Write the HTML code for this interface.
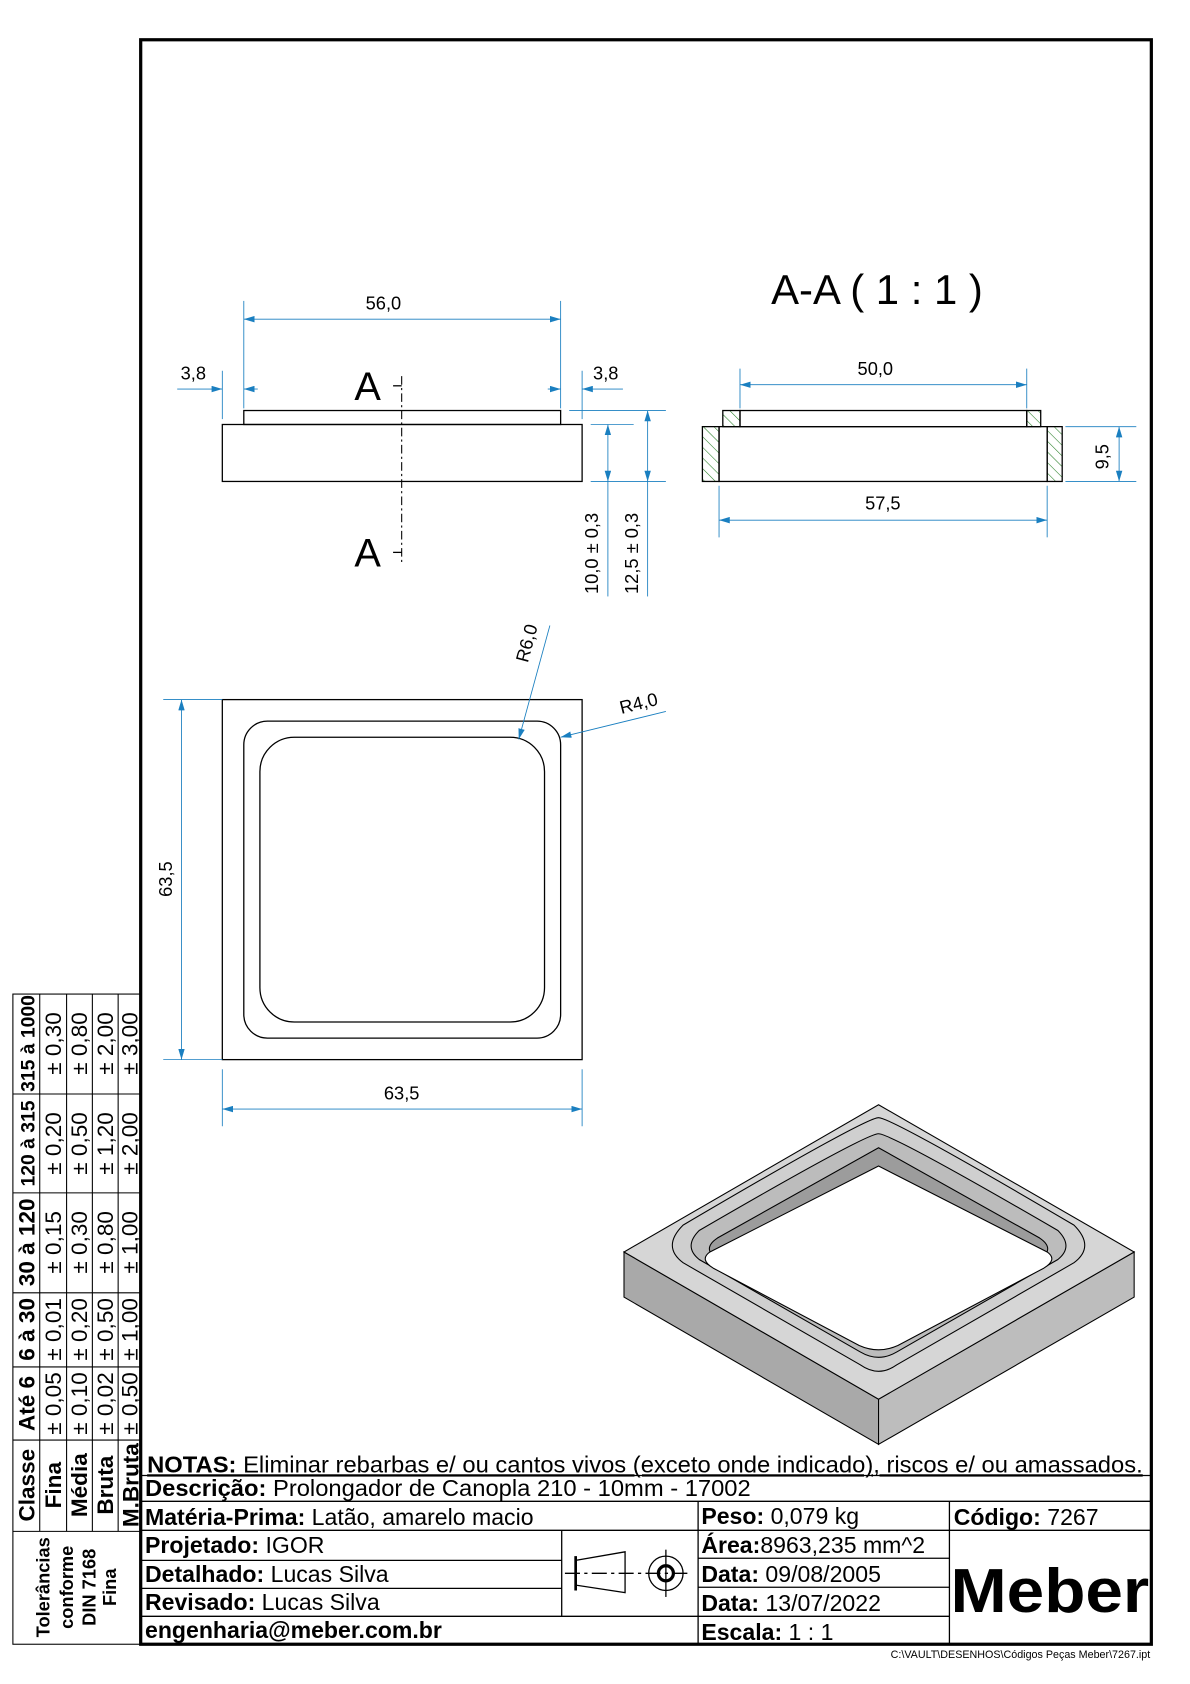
<!DOCTYPE html>
<html><head><meta charset="utf-8"><style>html,body{margin:0;padding:0;background:#fff}svg{display:block}</style></head><body>
<svg width="1190" height="1684" viewBox="0 0 1108 1567" preserveAspectRatio="none" xmlns="http://www.w3.org/2000/svg" font-family="Liberation Sans, sans-serif">
<defs>
<marker id="ar" viewBox="0 0 10 6" refX="10" refY="3" markerWidth="10" markerHeight="6" orient="auto-start-reverse" markerUnits="userSpaceOnUse"><path d="M0,0 L10,3 L0,6z" fill="#1a7fc0"/></marker>
<pattern id="h" width="7" height="7" patternUnits="userSpaceOnUse" patternTransform="rotate(-45)"><line x1="0" y1="0" x2="0" y2="7" stroke="#1f7a1f" stroke-width="1"/></pattern>
</defs>
<rect x="131" y="37" width="941" height="1493" fill="none" stroke="#000" stroke-width="3"/>
<g stroke="#000" fill="none" stroke-width="1.2">
<rect x="207" y="395" width="335" height="53"/><rect x="227" y="382" width="295" height="13"/>
<line x1="374" y1="350" x2="374" y2="525" stroke-dasharray="8,3,2,3" stroke-width="1"/>
<line x1="366" y1="359" x2="374" y2="359"/><line x1="366" y1="514" x2="374" y2="514"/>
</g>
<text x="330" y="372" font-size="37">A</text><text x="330" y="527" font-size="37">A</text>
<g stroke="#1a7fc0" stroke-width="0.8" fill="none">
<line x1="227" y1="280" x2="227" y2="380"/><line x1="522" y1="280" x2="522" y2="380"/>
<line x1="227" y1="297" x2="522" y2="297" marker-start="url(#ar)" marker-end="url(#ar)"/>
<line x1="207" y1="345" x2="207" y2="390"/><line x1="165" y1="362" x2="207" y2="362" marker-end="url(#ar)"/><line x1="240" y1="362" x2="227" y2="362" marker-end="url(#ar)"/>
<line x1="542" y1="345" x2="542" y2="390"/><line x1="510" y1="362" x2="522" y2="362" marker-end="url(#ar)"/><line x1="580" y1="362" x2="542" y2="362" marker-end="url(#ar)"/>
<line x1="550" y1="395" x2="590" y2="395"/><line x1="550" y1="448" x2="620" y2="448"/><line x1="530" y1="382" x2="620" y2="382"/>
<line x1="566" y1="395" x2="566" y2="448" marker-start="url(#ar)" marker-end="url(#ar)"/><line x1="566" y1="448" x2="566" y2="555"/>
<line x1="603" y1="382" x2="603" y2="448" marker-start="url(#ar)" marker-end="url(#ar)"/><line x1="603" y1="448" x2="603" y2="555"/>
</g>
<g font-size="17" fill="#000">
<text x="357" y="288" text-anchor="middle">56,0</text>
<text x="180" y="353" text-anchor="middle">3,8</text><text x="564" y="353" text-anchor="middle">3,8</text>
<text transform="translate(557,515) rotate(-90)" text-anchor="middle">10,0 ± 0,3</text>
<text transform="translate(594,515) rotate(-90)" text-anchor="middle">12,5 ± 0,3</text>
</g>
<text x="718" y="283" font-size="39">A-A  ( 1 : 1 )</text>
<g stroke="#000" stroke-width="1.2">
<rect x="654" y="397" width="15.5" height="51" fill="url(#h)"/><rect x="975" y="397" width="14" height="51" fill="url(#h)"/>
<rect x="673" y="382" width="16" height="15" fill="url(#h)"/><rect x="956" y="382" width="13" height="15" fill="url(#h)"/>
<rect x="669.5" y="397" width="305.5" height="51" fill="none"/><rect x="689" y="382" width="267" height="15" fill="none"/>
</g>
<g stroke="#1a7fc0" stroke-width="0.8" fill="none">
<line x1="689" y1="343" x2="689" y2="380"/><line x1="956" y1="343" x2="956" y2="380"/>
<line x1="689" y1="358" x2="956" y2="358" marker-start="url(#ar)" marker-end="url(#ar)"/>
<line x1="669.5" y1="452" x2="669.5" y2="500"/><line x1="975" y1="452" x2="975" y2="500"/>
<line x1="669.5" y1="484" x2="975" y2="484" marker-start="url(#ar)" marker-end="url(#ar)"/>
<line x1="992" y1="397" x2="1058" y2="397"/><line x1="992" y1="448" x2="1058" y2="448"/>
<line x1="1042" y1="397" x2="1042" y2="448" marker-start="url(#ar)" marker-end="url(#ar)"/>
</g>
<g font-size="17"><text x="815" y="349" text-anchor="middle">50,0</text><text x="822" y="474" text-anchor="middle">57,5</text>
<text transform="translate(1032,425) rotate(-90)" text-anchor="middle">9,5</text></g>
<g stroke="#000" fill="none" stroke-width="1.2">
<rect x="207" y="651" width="335" height="335"/>
<rect x="227" y="671" width="295" height="295" rx="22"/>
<rect x="242" y="686" width="265" height="265" rx="32"/>
</g>
<g stroke="#1a7fc0" stroke-width="0.8" fill="none">
<line x1="152" y1="651" x2="207" y2="651"/><line x1="152" y1="986" x2="207" y2="986"/>
<line x1="169" y1="651" x2="169" y2="986" marker-start="url(#ar)" marker-end="url(#ar)"/>
<line x1="207" y1="995" x2="207" y2="1048"/><line x1="542" y1="995" x2="542" y2="1048"/>
<line x1="207" y1="1032" x2="542" y2="1032" marker-start="url(#ar)" marker-end="url(#ar)"/>
<line x1="512" y1="582" x2="483" y2="688" marker-end="url(#ar)"/>
<line x1="620" y1="662" x2="522" y2="686" marker-end="url(#ar)"/>
</g>
<g font-size="17"><text transform="translate(160,818) rotate(-90)" text-anchor="middle">63,5</text>
<text x="374" y="1023" text-anchor="middle">63,5</text>
<text transform="translate(496,600) rotate(-75)" text-anchor="middle">R6,0</text>
<text transform="translate(596,660) rotate(-14)" text-anchor="middle">R4,0</text></g>
<g stroke="#000" stroke-width="1">
<polygon points="581,1165 818,1302 818,1344 581,1207" fill="#a9a9a9"/>
<polygon points="818,1302 1056,1165 1056,1207 818,1344" fill="#bdbdbd"/>
<polygon points="818,1028 1056,1165 818,1302 581,1165" fill="#d6d6d6"/>
<path d="M818,1040 Q830,1040 1000,1140 Q1020,1160 1000,1175 L835,1270 Q818,1282 801,1270 L636,1175 Q616,1160 636,1140 Q806,1040 818,1040z" fill="#cfcfcf"/>
<path d="M818,1055 Q830,1055 985,1145 Q1000,1160 985,1172 L835,1258 Q818,1268 801,1258 L651,1172 Q636,1160 651,1145 Q806,1055 818,1055z" fill="#bcbcbc"/>
<path d="M818,1068 L968,1152 Q983,1162 968,1172 L832,1248 Q818,1256 804,1248 L668,1172 Q653,1162 668,1152z" fill="#9c9c9c"/>
<path d="M818,1085 L975,1165 Q985,1172 972,1180 L836,1252 Q818,1260 800,1252 L664,1180 Q651,1172 661,1165z" fill="#fff"/>
</g>
<g stroke="#000" fill="none" stroke-width="1">
<rect x="12" y="925" width="119" height="605"/>
<line x1="37" y1="925" x2="37" y2="1425"/><line x1="62" y1="925" x2="62" y2="1425"/><line x1="86" y1="925" x2="86" y2="1425"/><line x1="110" y1="925" x2="110" y2="1425"/>
<line x1="12" y1="1018" x2="131" y2="1018"/><line x1="12" y1="1110" x2="131" y2="1110"/><line x1="12" y1="1203" x2="131" y2="1203"/><line x1="12" y1="1272" x2="131" y2="1272"/><line x1="12" y1="1340" x2="131" y2="1340"/><line x1="12" y1="1425" x2="131" y2="1425"/>
</g>
<g font-size="21">
<g font-weight="bold">
<text transform="translate(32,971) rotate(-90)" text-anchor="middle" font-size="18">315 à 1000</text>
<text transform="translate(32,1064) rotate(-90)" text-anchor="middle" font-size="18">120 à 315</text>
<text transform="translate(32,1156) rotate(-90)" text-anchor="middle">30 à 120</text>
<text transform="translate(32,1237) rotate(-90)" text-anchor="middle">6 à 30</text>
<text transform="translate(32,1306) rotate(-90)" text-anchor="middle">Até 6</text>
<text transform="translate(32,1382) rotate(-90)" text-anchor="middle">Classe</text>
<text transform="translate(57,1382) rotate(-90)" text-anchor="middle">Fina</text>
<text transform="translate(81,1382) rotate(-90)" text-anchor="middle">Média</text>
<text transform="translate(105,1382) rotate(-90)" text-anchor="middle">Bruta</text>
<text transform="translate(129,1382) rotate(-90)" text-anchor="middle">M.Bruta</text>
<text transform="translate(46,1477) rotate(-90)" text-anchor="middle" font-size="17">Tolerâncias</text>
<text transform="translate(68,1477) rotate(-90)" text-anchor="middle" font-size="17">conforme</text>
<text transform="translate(89,1477) rotate(-90)" text-anchor="middle" font-size="17">DIN 7168</text>
<text transform="translate(108,1477) rotate(-90)" text-anchor="middle" font-size="17">Fina</text>
</g>
<g>
<text transform="translate(57,971) rotate(-90)" text-anchor="middle">± 0,30</text><text transform="translate(81,971) rotate(-90)" text-anchor="middle">± 0,80</text><text transform="translate(105,971) rotate(-90)" text-anchor="middle">± 2,00</text><text transform="translate(128,971) rotate(-90)" text-anchor="middle">± 3,00</text>
<text transform="translate(57,1064) rotate(-90)" text-anchor="middle">± 0,20</text><text transform="translate(81,1064) rotate(-90)" text-anchor="middle">± 0,50</text><text transform="translate(105,1064) rotate(-90)" text-anchor="middle">± 1,20</text><text transform="translate(128,1064) rotate(-90)" text-anchor="middle">± 2,00</text>
<text transform="translate(57,1156) rotate(-90)" text-anchor="middle">± 0,15</text><text transform="translate(81,1156) rotate(-90)" text-anchor="middle">± 0,30</text><text transform="translate(105,1156) rotate(-90)" text-anchor="middle">± 0,80</text><text transform="translate(128,1156) rotate(-90)" text-anchor="middle">± 1,00</text>
<text transform="translate(57,1237) rotate(-90)" text-anchor="middle">± 0,01</text><text transform="translate(81,1237) rotate(-90)" text-anchor="middle">± 0,20</text><text transform="translate(105,1237) rotate(-90)" text-anchor="middle">± 0,50</text><text transform="translate(128,1237) rotate(-90)" text-anchor="middle">± 1,00</text>
<text transform="translate(57,1306) rotate(-90)" text-anchor="middle">± 0,05</text><text transform="translate(81,1306) rotate(-90)" text-anchor="middle">± 0,10</text><text transform="translate(105,1306) rotate(-90)" text-anchor="middle">± 0,02</text><text transform="translate(128,1306) rotate(-90)" text-anchor="middle">± 0,50</text>
</g></g>
<g stroke="#000" stroke-width="1.2">
<line x1="131" y1="1373" x2="1072" y2="1373"/><line x1="131" y1="1397" x2="1072" y2="1397"/>
<line x1="131" y1="1424" x2="1072" y2="1424"/>
<line x1="650" y1="1397" x2="650" y2="1530"/><line x1="884" y1="1397" x2="884" y2="1530"/>
<line x1="523" y1="1424" x2="523" y2="1504"/>
<line x1="131" y1="1452" x2="523" y2="1452"/><line x1="131" y1="1478" x2="523" y2="1478"/><line x1="131" y1="1504" x2="650" y2="1504"/>
<line x1="650" y1="1450" x2="884" y2="1450"/><line x1="650" y1="1477" x2="884" y2="1477"/><line x1="650" y1="1504" x2="884" y2="1504"/>
</g>
<g stroke="#000" fill="none" stroke-width="1.2">
<path d="M536,1452 L582,1444 L582,1482 L536,1475z"/><line x1="536" y1="1448" x2="536" y2="1480" stroke-width="2.5"/>
<line x1="526" y1="1464" x2="640" y2="1464" stroke-dasharray="14,4,3,4"/>
<circle cx="620" cy="1464" r="16"/><circle cx="620" cy="1464" r="7" stroke-width="3"/><line x1="620" y1="1442" x2="620" y2="1486"/>
</g>
<g font-size="21.5">
<text x="137" y="1370" text-decoration="underline" textLength="927" lengthAdjust="spacingAndGlyphs"><tspan font-weight="bold">NOTAS:</tspan> Eliminar rebarbas e/ ou cantos vivos (exceto onde indicado), riscos e/ ou amassados.</text>
<text x="135" y="1392" textLength="564" lengthAdjust="spacingAndGlyphs"><tspan font-weight="bold">Descrição:</tspan> Prolongador de Canopla 210 - 10mm - 17002</text>
<text x="135" y="1419"><tspan font-weight="bold">Matéria-Prima:</tspan> Latão, amarelo macio</text>
<text x="135" y="1445"><tspan font-weight="bold">Projetado:</tspan> IGOR</text>
<text x="135" y="1472"><tspan font-weight="bold">Detalhado:</tspan> Lucas Silva</text>
<text x="135" y="1498"><tspan font-weight="bold">Revisado:</tspan> Lucas Silva</text>
<text x="135" y="1524" font-weight="bold">engenharia@meber.com.br</text>
<text x="653" y="1418"><tspan font-weight="bold">Peso:</tspan> 0,079 kg</text>
<text x="653" y="1445"><tspan font-weight="bold">Área:</tspan>8963,235 mm^2</text>
<text x="653" y="1472"><tspan font-weight="bold">Data:</tspan> 09/08/2005</text>
<text x="653" y="1499"><tspan font-weight="bold">Data:</tspan> 13/07/2022</text>
<text x="653" y="1526"><tspan font-weight="bold">Escala:</tspan> 1 : 1</text>
<text x="888" y="1419"><tspan font-weight="bold">Código:</tspan> 7267</text>
</g>
<text x="885" y="1500" font-size="58" font-weight="bold" textLength="185" lengthAdjust="spacingAndGlyphs">Meber</text>
<text x="1071" y="1543" font-size="10" text-anchor="end">C:\VAULT\DESENHOS\Códigos Peças Meber\7267.ipt</text>
</svg>
</body></html>
